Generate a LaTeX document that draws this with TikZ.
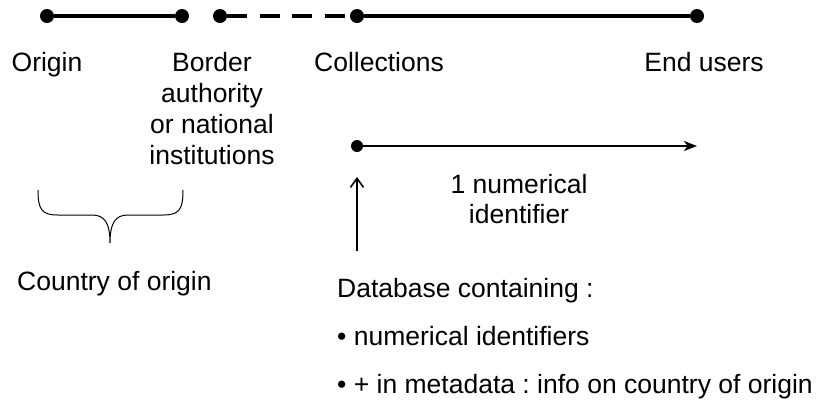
\documentclass[tikz,border=0pt]{standalone}
\usepackage{fontspec}
\setmainfont{Liberation Sans}
\usetikzlibrary{arrows.meta}
\frenchspacing
\begin{document}
\begin{tikzpicture}[x=1pt,y=-1pt,
    dot/.style={circle,fill=black,inner sep=0pt,minimum size=#1},
    dot/.default=14pt,
    lbl/.style={inner sep=0pt,anchor=base,align=center,font=\fontsize{26.5}{31}\selectfont}]
    \useasboundingbox (0,0) rectangle (816,400);
    \node[dot] (1) at (47,16) {};
    \node[dot] (2) at (182,16) {};
    \node[dot] (3) at (220,16) {};
    \node[dot] (4) at (357,16) {};
    \node[dot] (5) at (697,16) {};
    \node[dot=12pt] (6) at (357,146) {};
    \coordinate (idend) at (697,146);
    \coordinate (dbtop) at (357,251);
    \coordinate (idup) at (357,177);

    \draw[line width=3.2pt,-] (1)--(2);
    \draw[line width=3.2pt,dash pattern=on 20pt off 12.5pt] (3)--(4);
    \draw[line width=3.2pt,-] (4)--(5);
    \draw[line width=1.6pt,-{Stealth[length=13pt,width=10pt,inset=3.5pt]}] (6)--(idend);
    \draw[line width=1.6pt,-{Straight Barb[length=9pt,width=13pt]}] (dbtop)--(idup);

    % multi-line labels sit on their last baseline
    \node[lbl] (origin) at (47,71) {Origin};
    \node[lbl] (border) at (212,164) {Border\\authority\\or national\\institutions};
    \node[lbl] (coll) at (379,71) {Collections};
    \node[lbl] (users) at (704,71) {End users};
    \node[lbl,font=\fontsize{26.5}{30}\selectfont] (numid) at (519,223) {1 numerical\\identifier};

    % brace under origin and border
    \draw[line width=1pt] (38,190) .. controls (38,210) and (42,215) .. (58,215) -- (92,215)
        .. controls (104,215) and (110,222) .. (110,243)
        .. controls (110,222) and (116,215) .. (128,215) -- (163,215)
        .. controls (179,215) and (183,210) .. (183,190);
    \node[lbl,anchor=base west] (country) at (17,290) {Country of origin};
    \node[lbl,anchor=base west,align=left,font=\fontsize{26.5}{48}\selectfont] (db) at (337,393)
        {Database containing :\\• numerical identifiers\\• + in metadata : info on country of origin};
\end{tikzpicture}
\end{document}
